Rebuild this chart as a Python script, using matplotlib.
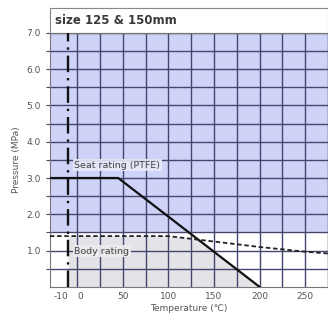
import numpy as np
import matplotlib
matplotlib.use("Agg")
import matplotlib.pyplot as plt
from matplotlib.patches import Rectangle

# data
seat_t = [-30, 45, 200]
seat_p = [3.0, 3.0, 0.0]
body_t = [-30, 100, 150, 200, 250, 275]
body_p = [1.4, 1.4, 1.25, 1.1, 0.97, 0.92]
min_temp = -10
xticks = [-10, 0, 50, 100, 150, 200, 250]
yticks = [1.0, 2.0, 3.0, 4.0, 5.0, 6.0, 7.0]

grid_col = '#44466e'
label_col = '#555555'

fig = plt.figure(figsize=(3.28, 3.22), dpi=100)
ax = fig.add_axes([0.152, 0.109, 0.848, 0.789])
ax.set_xlim(-30, 275)
ax.set_ylim(0, 7.0)

# background: blue above 1.5, white below
ax.axhspan(1.5, 7.0, color='#d0d3f8', zorder=0)
ax.axhspan(0, 1.5, color='white', zorder=0)

# grey area under the lower of the two ratings
tt = np.linspace(min_temp, 200, 200)
low = np.minimum(np.interp(tt, seat_t, seat_p), np.interp(tt, body_t, body_p))
ax.fill_between(tt, 0, low, color='#e4e4e8', zorder=1, lw=0)

# grid
for x in np.arange(0, 276, 25):
    ax.axvline(x, color=grid_col, lw=1.0, zorder=2)
for y in np.arange(0.5, 7.01, 0.5):
    ax.axhline(y, color=grid_col, lw=1.0, zorder=2)

ax.axvline(min_temp, color='#111111', lw=1.7, ls=(0, (7, 2.5, 1, 2.5)), zorder=4)

ax.plot(seat_t, seat_p, color='#111111', lw=1.6, zorder=5)
ax.plot(body_t, body_p, color='#222222', lw=1.3, ls=(0, (2.5, 1.5)), zorder=5)

ax.text(-3, 3.35, 'Seat rating (PTFE)', fontsize=6.8, color='#444444', zorder=6,
        va='center', bbox=dict(fc='#e8e9f8', ec='none', pad=1.0, alpha=0.9))
ax.text(-3, 0.98, 'Body rating', fontsize=6.8, color='#444444', zorder=6,
        va='center', bbox=dict(fc='#ececee', ec='none', pad=1.0, alpha=0.9))

ax.set_xticks(xticks)
ax.set_xticklabels(['-10', '0', '50', '100', '150', '200', '250'])
ax.set_yticks(np.arange(0.5, 7.01, 0.5), minor=False)
ax.set_yticklabels(['' if abs(v - round(v)) > 0.01 else '%.1f' % v
                    for v in np.arange(0.5, 7.01, 0.5)])
ax.tick_params(axis='both', labelsize=6.5, colors=label_col, length=3, width=0.8)
ax.tick_params(axis='x', length=0, pad=4)
ax.tick_params(axis='y', color=grid_col)
for lab in ax.get_xticklabels():
    if lab.get_text() == '-10':
        lab.set_horizontalalignment('right')
    if lab.get_text() == '0':
        lab.set_horizontalalignment('left')

ax.set_xlabel('Temperature (\u2103)', fontsize=6.5, color=label_col, labelpad=2)
ax.set_ylabel('Pressure (MPa)', fontsize=6.5, color=label_col, labelpad=4)

for s in ax.spines.values():
    s.set_color('#777777')
    s.set_linewidth(0.8)

# title box above the plot
ax.add_patch(Rectangle((0, 1.0), 1.0, 0.098, transform=ax.transAxes,
                       fc='white', ec='#888888', lw=0.8, clip_on=False))
ax.text(0.02, 1.049, 'size 125 & 150mm', transform=ax.transAxes,
        fontsize=8.5, fontweight='bold', color='#3a3a3a', va='center')

fig.savefig('out.png', dpi=100)
